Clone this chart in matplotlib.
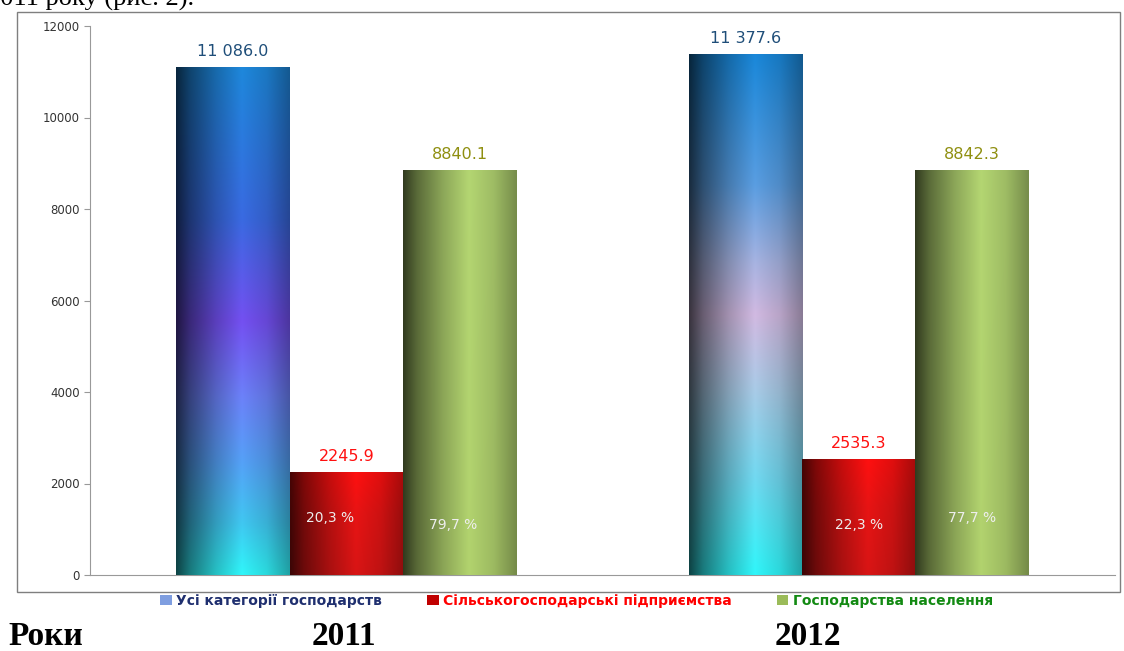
import matplotlib
matplotlib.use("Agg")
import matplotlib.pyplot as plt
import numpy as np
from matplotlib.patches import Rectangle, Patch
from matplotlib.colors import to_rgb

# дані
years = ["2011", "2012"]
series = ["Усі категорії господарств", "Сільськогосподарські підприємства", "Господарства населення"]
all_cat = [11086.0, 11377.6]
agri_ent = [2245.9, 2535.3]
households = [8840.1, 8842.3]
value_labels = [["11 086.0", "2245.9", "8840.1"], ["11 377.6", "2535.3", "8842.3"]]
share_agri = ["20,3 %", "22,3 %"]
share_house = ["79,7 %", "77,7 %"]

label_colors = ["#1f4e79", "#ff1010", "#8f8f10"]
legend_colors = ["#1f2f6f", "#ff0000", "#138a13"]
base_colors = ["#5a7fe0", "#e01010", "#b2d36e"]

# вертикальні градієнти (зверху вниз) для кожного стовпчика
grad_blue = [
    [(0.0, "#1e88dc"), (0.3, "#3a6ae2"), (0.5, "#7450f2"), (0.65, "#6c82fa"),
     (0.78, "#55a2f8"), (0.9, "#40c8f2"), (1.0, "#30f6fa")],
    [(0.0, "#1a88da"), (0.25, "#5a9ee2"), (0.4, "#a8b4e2"), (0.5, "#d2bae2"),
     (0.65, "#a8cce8"), (0.82, "#70daf2"), (1.0, "#30f6fa")],
]
grad_red = [(0.0, "#ff1010"), (0.4, "#e81414"), (1.0, "#d81515")]
grad_green = [(0.0, "#b4d672"), (1.0, "#b2d36e")]

# горизонтальне затемнення (циліндр)
prof_x = [0.0, 0.12, 0.35, 0.58, 0.8, 1.0]
prof_v = [0.28, 0.5, 0.78, 1.0, 0.88, 0.66]


def gradient_img(stops, nh=200, nw=80):
    pos = [s[0] for s in stops]
    cols = np.array([to_rgb(s[1]) for s in stops])
    t = np.linspace(0, 1, nh)
    vert = np.stack([np.interp(t, pos, cols[:, k]) for k in range(3)], axis=1)
    h = np.interp(np.linspace(0, 1, nw), prof_x, prof_v)
    img = vert[:, None, :] * h[None, :, None]
    return np.clip(img, 0, 1)


fig = plt.figure(figsize=(11.24, 6.51), dpi=100)
ax = fig.add_axes([90 / 1124, 1 - 575 / 651, 1025 / 1124, 549 / 651])

x = np.arange(len(years))
w = 0.221
groups = [all_cat, agri_ent, households]
bars = []
for i, vals in enumerate(groups):
    b = ax.bar(x + (i - 1) * w, vals, w, color=base_colors[i], label=series[i], zorder=2)
    bars.append(b)

for i, b in enumerate(bars):
    for j, rect in enumerate(b):
        if i == 0:
            stops = grad_blue[j]
        elif i == 1:
            stops = grad_red
        else:
            stops = grad_green
        x0, ww, hh = rect.get_x(), rect.get_width(), rect.get_height()
        ax.imshow(gradient_img(stops), extent=[x0, x0 + ww, 0, hh], aspect="auto",
                  origin="upper", zorder=3, interpolation="bilinear")
        ax.annotate(value_labels[j][i], (x0 + ww / 2, hh), xytext=(0, 6),
                    textcoords="offset points", ha="center", va="bottom",
                    fontsize=11.5, color=label_colors[i], zorder=5)

# відсотки всередині стовпчиків
for j in range(len(years)):
    r = bars[1][j]
    ax.text(r.get_x() + r.get_width() * (0.36 if j == 0 else 0.5), 1250 if j == 0 else 1090,
            share_agri[j], ha="center", va="center", fontsize=10, color="#eeeeee", zorder=5)
    g = bars[2][j]
    ax.text(g.get_x() + g.get_width() * (0.44 if j == 0 else 0.5), 1090 if j == 0 else 1250,
            share_house[j], ha="center", va="center", fontsize=10, color="#eeeeee", zorder=5)

ax.set_xlim(-0.5, 1.5)
ax.set_ylim(0, 12000)
ax.set_yticks(np.arange(0, 12001, 2000))
ax.set_xticks([])
ax.tick_params(axis="y", labelsize=8.5, labelcolor="#333333", color="#999999",
               length=4, width=0.8)
for s in ["top", "right"]:
    ax.spines[s].set_visible(False)
ax.spines["left"].set_color("#999999")
ax.spines["left"].set_linestyle((0, (1, 1)))
ax.spines["bottom"].set_color("#999999")
ax.spines["bottom"].set_linestyle((0, (1, 1)))
ax.patch.set_alpha(0)

# рамка діаграми
fig.patches.append(Rectangle((17 / 1124, 1 - 592 / 651), 1103 / 1124, 580 / 651,
                             transform=fig.transFigure, fill=False,
                             edgecolor="#7f7f7f", linewidth=1))

handles = [Patch(facecolor="#7f9ee0"), Patch(facecolor="#c00000"), Patch(facecolor="#9bbb59")]
leg = fig.legend(handles, series, loc="center", bbox_to_anchor=(0.513, 1 - 601 / 651),
                 ncol=3, frameon=False, handlelength=0.8, handleheight=0.8,
                 handletextpad=0.3, columnspacing=3.3,
                 prop={"family": "DejaVu Sans", "weight": "bold", "size": 10})
for t, c in zip(leg.get_texts(), legend_colors):
    t.set_color(c)

# текст документа навколо діаграми
fig.text(-13 / 1124, 1 - 6 / 651, "2011 року (рис. 2).", fontsize=19,
         family="Liberation Serif", va="baseline", ha="left")
fig.text(8 / 1124, 1 - 645 / 651, "Роки", fontsize=24, family="Liberation Serif",
         weight="bold", va="baseline", ha="left")
fig.text(344 / 1124, 1 - 645 / 651, years[0], fontsize=24, family="Liberation Serif",
         weight="bold", va="baseline", ha="center")
fig.text(808 / 1124, 1 - 645 / 651, years[1], fontsize=24, family="Liberation Serif",
         weight="bold", va="baseline", ha="center")

fig.savefig("out.png", dpi=100)
